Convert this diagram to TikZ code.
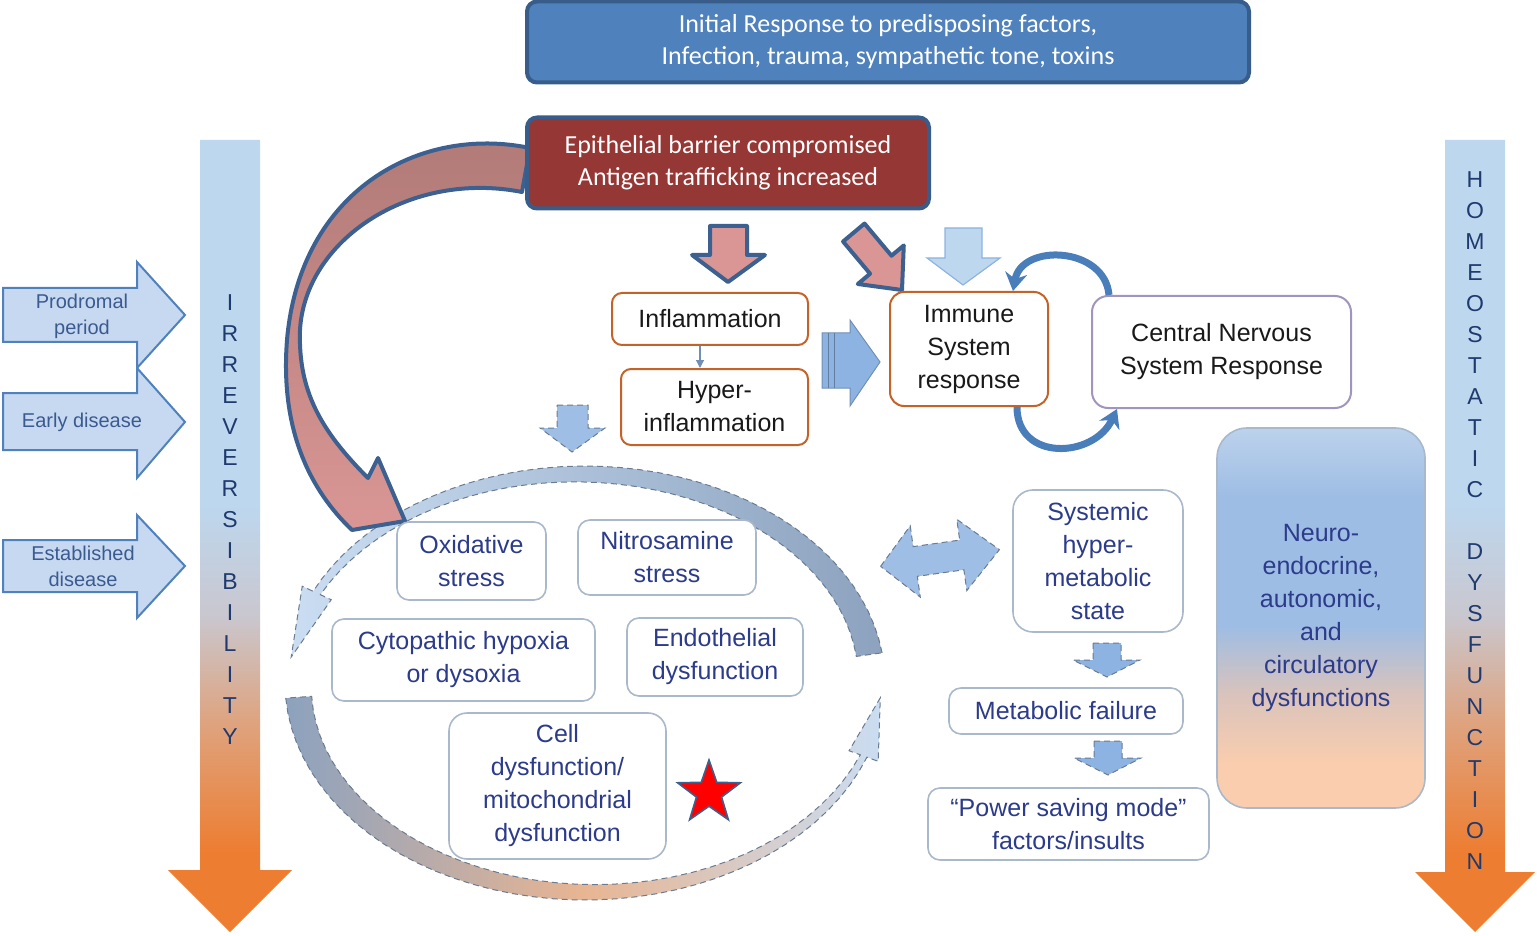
\documentclass[tikz,border=0pt]{standalone}
\usepackage{fontspec}
\setmainfont{Liberation Sans}
\newfontfamily\calib{Carlito}
\usepackage{tikz}
\usetikzlibrary{shapes.geometric, arrows.meta}

\definecolor{initblue}{HTML}{4F81BD}
\definecolor{darkblue}{HTML}{385D8A}
\definecolor{epired}{HTML}{953735}
\definecolor{rimblue}{HTML}{3C6090}
\definecolor{pinkfill}{HTML}{D99694}
\definecolor{brownfill}{HTML}{B07A77}
\definecolor{orangerim}{HTML}{C46328}
\definecolor{purplerim}{HTML}{A195BF}
\definecolor{greyrim}{HTML}{A9B8CB}
\definecolor{navytext}{HTML}{2C3B8A}
\definecolor{slatetext}{HTML}{3B5A8F}
\definecolor{lettertext}{HTML}{1F3A6E}
\definecolor{paleblue}{HTML}{C6D9F1}
\definecolor{midblue}{HTML}{8DB3E2}
\definecolor{loopblue}{HTML}{4A7EBB}
\definecolor{arrblue}{HTML}{BDD7EE}
\definecolor{arrgray}{HTML}{C9C7CF}
\definecolor{arrtan}{HTML}{DFA27C}
\definecolor{arrorange}{HTML}{ED7D31}
\definecolor{ntop}{HTML}{BCD2EC}
\definecolor{nblue}{HTML}{9EBDE4}
\definecolor{nmix}{HTML}{D9C3BC}
\definecolor{npeach}{HTML}{F9CDAE}
\definecolor{bandgray}{HTML}{8CA2BE}
\definecolor{bandlight}{HTML}{CADDF2}
\definecolor{bandorange}{HTML}{E8B592}
\definecolor{dashrim}{HTML}{6B7B90}

\pgfdeclareverticalshading{dysfshade}{100bp}{color(0bp)=(arrorange); color(30bp)=(arrorange); color(38bp)=(arrtan); color(45bp)=(arrgray); color(52bp)=(arrblue); color(100bp)=(arrblue)}
\pgfdeclareverticalshading{neuroshade}{100bp}{color(0bp)=(npeach); color(31bp)=(npeach); color(40bp)=(nmix); color(49bp)=(nblue); color(66bp)=(nblue); color(75bp)=(ntop); color(100bp)=(ntop)}

\begin{document}
\begin{tikzpicture}[x=0.5pt, y=-0.5pt,
    bigbox/.style={rounded corners=5pt, line width=2pt, draw=darkblue, text=white, align=center, inner sep=0pt, font=\calib\fontsize{13}{16}\selectfont},
    orangebox/.style={draw=orangerim, line width=1pt, rounded corners=5pt, fill=white, align=center, inner sep=0pt, text=black!90, font=\fontsize{12.5}{16.5}\selectfont},
    greybox/.style={draw=greyrim, line width=0.8pt, rounded corners=6pt, fill=white, align=center, inner sep=0pt, text=navytext, font=\fontsize{12.5}{16.5}\selectfont},
    fatarrow/.style={fill=paleblue, draw=initblue, line width=1pt},
    stagetext/.style={align=center, text=slatetext, font=\fontsize{10}{13}\selectfont},
    redarrow/.style={fill=pinkfill, draw=rimblue, line width=2pt, line join=round},
    dasharrow/.style={fill=midblue!85, draw=dashrim, densely dashed, line width=0.5pt},
    bandarrow/.style={draw=dashrim, densely dashed, line width=0.5pt},
    loopconn/.style={draw=loopblue, line width=3.5pt, -{Stealth[length=9pt, width=11pt]}},
    smallconn/.style={draw=midblue!80!black, line width=0.6pt, -{Triangle[length=4pt, width=4pt]}},
    letters/.style={text=lettertext, font=\fontsize{11.5}{14}\selectfont}]
    \useasboundingbox (0,0) rectangle (1537,936);

    % side arrows
    \shade[shading=dysfshade] (200,140) -- (260,140) -- (260,870) -- (292,870) -- (230,932) -- (168,870) -- (200,870) -- cycle;
    \shade[shading=dysfshade] (1445,140) -- (1505,140) -- (1505,872) -- (1535,872) -- (1475,932) -- (1415,872) -- (1445,872) -- cycle;
    \foreach \ch [count=\i from 0] in {I,R,R,E,V,E,R,S,I,B,I,L,I,T,Y}
        \node[letters] (irr\i) at (230,303+31*\i) {\ch};
    \foreach \ch [count=\i from 0] in {H,O,M,E,O,S,T,A,T,I,C,{},D,Y,S,F,U,N,C,T,I,O,N}
        \node[letters] (hom\i) at (1475,180+31*\i) {\ch};

    \draw[fatarrow] (3,288) -- (137,288) -- (137,262) -- (185,315) -- (137,368) -- (137,342) -- (3,342) -- cycle;
    \draw[fatarrow] (3,393) -- (137,393) -- (137,368) -- (185,422) -- (137,478) -- (137,450) -- (3,450) -- cycle;
    \draw[fatarrow] (3,540) -- (137,540) -- (137,515) -- (185,566) -- (137,618) -- (137,592) -- (3,592) -- cycle;
    \node[stagetext] (prod) at (82,316) {Prodromal\\period};
    \node[stagetext] (early) at (82,422) {Early disease};
    \node[stagetext] (estab) at (83,566) {Established\\disease};

    % cycle
    \draw[bandarrow, left color=bandlight, right color=bandgray]
        plot[domain=8:155, samples=40] ({585+300*cos(\x)},{683-217*sin(\x)})
        -- ({585+312*cos(155)},{683-229*sin(155)}) -- ({585+296*cos(173)},{683-213*sin(173)})
        -- ({585+280*cos(155)},{683-197*sin(155)})
        -- plot[domain=155:8, samples=40] ({585+(274+18*(\x-8)/147)*cos(\x)},{683-(191+18*(\x-8)/147)*sin(\x)}) -- cycle;
    \draw[bandarrow, left color=bandgray, right color=bandlight, middle color=bandorange]
        plot[domain=184:340, samples=40] ({585+300*cos(\x)},{683-217*sin(\x)})
        -- ({585+312*cos(340)},{683-229*sin(340)}) -- ({585+296*cos(356)},{683-213*sin(356)})
        -- ({585+281*cos(340)},{683-198*sin(340)})
        -- plot[domain=340:184, samples=40] ({585+(274+19*(\x-184)/156)*cos(\x)},{683-(191+19*(\x-184)/156)*sin(\x)}) -- cycle;

    % curved arrow
    \draw[redarrow, top color=brownfill, bottom color=pinkfill] (530,148) .. controls (420,125) and (300,190) .. (287,340)
        .. controls (280,430) and (310,490) .. (352,530) -- (405,521) -- (378,458) -- (368,478)
        .. controls (320,430) and (298,390) .. (300,330) .. controls (305,240) and (410,170) .. (522,192) -- cycle;

    \node[bigbox, fill=initblue, minimum width=361pt, minimum height=40.5pt] (init) at (888,42) {Initial Response to predisposing factors,\\Infection, trauma, sympathetic tone, toxins};
    \node[bigbox, fill=epired, minimum width=201pt, minimum height=45.5pt] (epi) at (728,163) {Epithelial barrier compromised\\Antigen trafficking increased};

    \draw[redarrow] (710,226) -- (747,226) -- (747,255) -- (765,255) -- (728,282) -- (692,255) -- (710,255) -- cycle;
    \begin{scope}[shift={(902,290)}, rotate=-50]
        \draw[redarrow] (0,0) -- (-33,-30) -- (-33,-14) -- (-75,-14) -- (-75,14) -- (-33,14) -- (-33,30) -- cycle;
    \end{scope}
    \draw[fill=arrblue, draw=midblue, line width=0.6pt] (945,228) -- (982,228) -- (982,258) -- (1000,258) -- (963,285) -- (927,258) -- (945,258) -- cycle;
    \draw[fill=midblue, draw=midblue!80!black, line width=0.5pt] (822,333) -- (850,333) -- (850,320) -- (880,362) -- (850,406) -- (850,388) -- (822,388) -- cycle;
    \draw[midblue!70!black, line width=0.4pt] (828,333) -- (828,388) (834,333) -- (834,388);
    \draw[dasharrow] (557,405) -- (588,405) -- (588,428) -- (605,428) -- (572,452) -- (540,428) -- (557,428) -- cycle;

    \node[orangebox, minimum width=98pt, minimum height=26pt] (infl) at (710,319) {Inflammation};
    \node[orangebox, minimum width=93.5pt, minimum height=38pt] (hyper) at (714.5,407) {Hyper-\\inflammation};
    \node[orangebox, minimum width=79pt, minimum height=57pt, rounded corners=7pt] (immune) at (969,349) {Immune\\System\\response};
    \node[orangebox, draw=purplerim, minimum width=129.5pt, minimum height=56pt, rounded corners=8pt] (cns) at (1221.5,352) {Central Nervous\\System Response};
    \draw[smallconn] ([xshift=-5pt]infl.south) -- ([xshift=-5pt]infl.south |- hyper.north);
    \draw[loopconn] ([xshift=9pt]cns.north west) to[out=95, in=80, looseness=1.3] ([xshift=-18pt]immune.north east);
    \draw[loopconn] ([xshift=-16pt]immune.south east) to[out=-90, in=-115, looseness=1.4] ([xshift=13pt]cns.south west);

    \node[greybox, minimum width=74.5pt, minimum height=39pt] (oxid) at (471.5,561) {Oxidative\\stress};
    \node[greybox, minimum width=89pt, minimum height=37.5pt] (nitro) at (667,557.5) {Nitrosamine\\stress};
    \node[greybox, minimum width=131.5pt, minimum height=41pt] (cyto) at (463.5,660) {Cytopathic hypoxia\\or dysoxia};
    \node[greybox, minimum width=88pt, minimum height=39pt] (endo) at (715,657) {Endothelial\\dysfunction};
    \node[greybox, minimum width=108.5pt, minimum height=73pt, rounded corners=9pt] (cell) at (557.5,786) {Cell\\dysfunction/\\mitochondrial\\dysfunction};
    \node[star, star points=5, star point ratio=2.5, minimum size=33pt, inner sep=0pt, fill=red, draw=rimblue, line width=0.8pt] (star) at (709,793) {};

    % right column
    \begin{scope}[shift={(940,558)}, rotate=8]
        \draw[dasharrow] (-60,0) -- (-25,-36) -- (-25,-15) -- (22,-15) -- (22,-36) -- (60,0) -- (22,36) -- (22,15) -- (-25,15) -- (-25,36) -- cycle;
    \end{scope}
    \node[greybox, minimum width=85pt, minimum height=71pt, rounded corners=10pt] (syst) at (1098,561) {Systemic\\hyper-\\metabolic\\state};
    \draw[dasharrow, fill=midblue] (1093,643) -- (1121,643) -- (1121,660) -- (1140,660) -- (1107,677) -- (1073,660) -- (1093,660) -- cycle;
    \node[greybox, minimum width=117pt, minimum height=23pt] (metab) at (1066,711) {Metabolic failure};
    \draw[dasharrow, fill=midblue] (1094,741) -- (1122,741) -- (1122,758) -- (1141,758) -- (1108,775) -- (1074,758) -- (1094,758) -- cycle;
    \node[greybox, minimum width=140.5pt, minimum height=36pt] (power) at (1068.5,824) {“Power saving mode”\\factors/insults};
    \node[greybox, shade, shading=neuroshade, minimum width=104pt, minimum height=190pt, rounded corners=15pt] (neuro) at (1321,618) {Neuro-\\endocrine,\\autonomic,\\and\\circulatory\\dysfunctions};
\end{tikzpicture}
\end{document}
